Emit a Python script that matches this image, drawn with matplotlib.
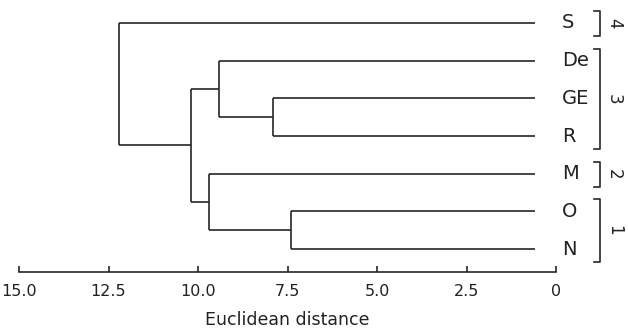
import matplotlib.pyplot as plt
import numpy as np

plt.rcParams['font.family'] = ['Liberation Sans Narrow', 'DejaVu Sans']

# leaves, top to bottom
leaves = ['S', 'De', 'GE', 'R', 'M', 'O', 'N']
leaf_end = 0.6   # distance where the leaf lines stop

# merges: (child a, child b, height); children are leaf names or merge ids
merges = [
    ('GE', 'R', 7.9),     # m0
    ('O', 'N', 7.4),      # m1
    ('De', 'm0', 9.4),    # m2
    ('M', 'm1', 9.7),     # m3
    ('m2', 'm3', 10.2),   # m4
    ('S', 'm4', 12.2),    # m5
]

# cluster groups at the right: (label, first leaf, last leaf)
groups = [('4', 'S', 'S'), ('3', 'De', 'R'), ('2', 'M', 'M'), ('1', 'O', 'N')]

ticks = [15.0, 12.5, 10.0, 7.5, 5.0, 2.5, 0]
tick_labels = ['15.0', '12.5', '10.0', '7.5', '5.0', '2.5', '0']

W, H = 628, 334
fig = plt.figure(figsize=(W / 100, H / 100), dpi=100)
ax = fig.add_axes([19 / W, 1 - 272 / H, (556 - 19) / W, (272 - 10) / H])
ax.set_xlim(15, 0)
ax.set_ylim(6.61, -0.345)

lc = '#262626'
lw = 1.2

pos = {name: (float(i), leaf_end) for i, name in enumerate(leaves)}
for k, (a, b, h) in enumerate(merges):
    ya, xa = pos[a]
    yb, xb = pos[b]
    ax.plot([xa, h], [ya, ya], color=lc, lw=lw, solid_capstyle='butt')
    ax.plot([xb, h], [yb, yb], color=lc, lw=lw, solid_capstyle='butt')
    ax.plot([h, h], [ya, yb], color=lc, lw=lw, solid_capstyle='butt')
    pos['m%d' % k] = ((ya + yb) / 2, h)

# leaf labels
for i, name in enumerate(leaves):
    ax.text(-0.17, i, name, ha='left', va='center', fontsize=14,
            color='#222222', clip_on=False)

# group brackets
for lab, first, last in groups:
    y0 = leaves.index(first) - 0.32
    y1 = leaves.index(last) + 0.35
    bx = -1.22
    ax.plot([bx + 0.15, bx, bx, bx + 0.15], [y0, y0, y1, y1], color=lc,
            lw=lw, clip_on=False)
    ax.text(-1.62, (y0 + y1) / 2, lab, rotation=-90, ha='center', va='center',
            fontsize=12, color='#222222', clip_on=False)

for s in ['top', 'right', 'left']:
    ax.spines[s].set_visible(False)
ax.spines['bottom'].set_color(lc)
ax.spines['bottom'].set_linewidth(lw)
ax.set_yticks([])
ax.set_xticks(ticks)
ax.set_xticklabels(tick_labels)
ax.tick_params(axis='x', direction='in', length=4, width=lw, color=lc,
               pad=9, labelsize=11.5, labelcolor='#222222')
ax.set_xlabel('Euclidean distance', fontsize=12.5, color='#222222', labelpad=8)

fig.savefig('out.png', dpi=100)
